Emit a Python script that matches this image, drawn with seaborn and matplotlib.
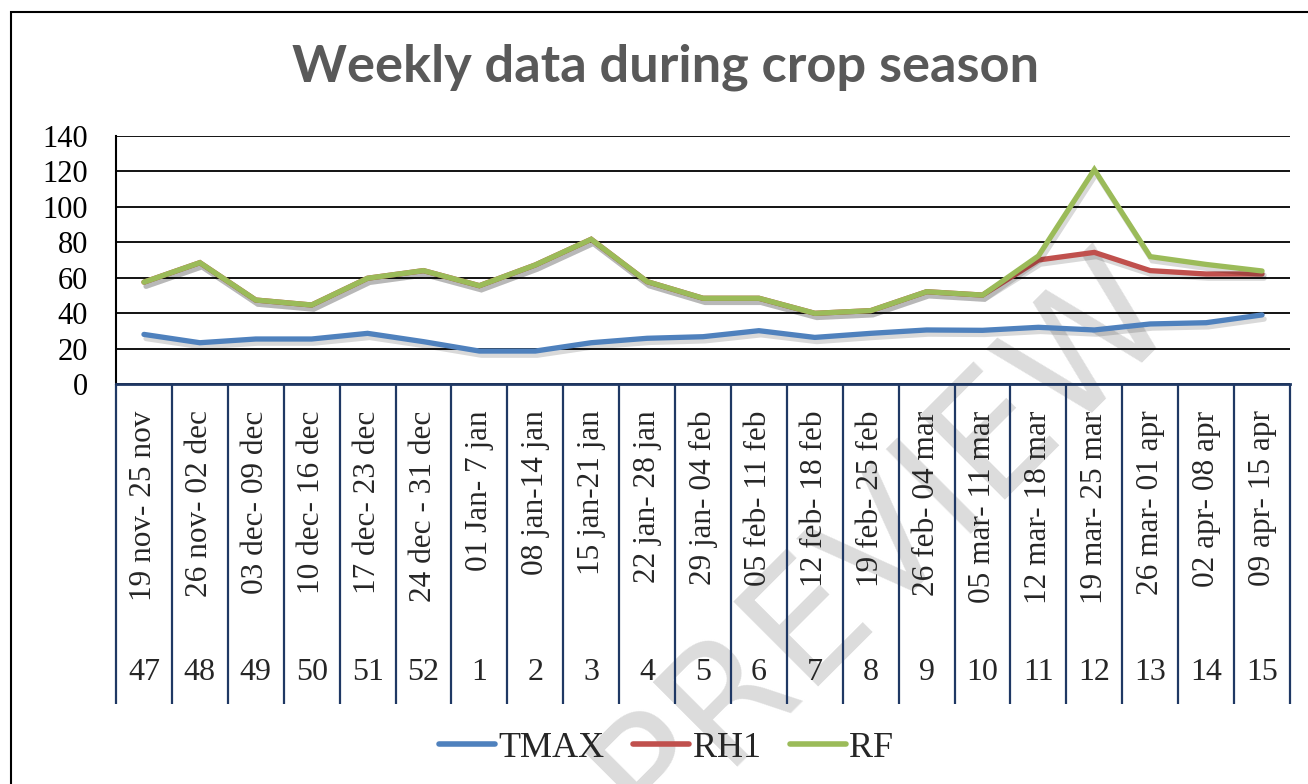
import numpy as np
import pandas as pd
import matplotlib
matplotlib.use("Agg")
import matplotlib.pyplot as plt
import seaborn as sns
from matplotlib import patheffects as pe
from matplotlib.lines import Line2D
from matplotlib.patches import Rectangle

# Weekly data
week_labels = [
    "19 nov- 25 nov", "26 nov- 02 dec", "03 dec- 09 dec", "10 dec- 16 dec",
    "17 dec- 23 dec", "24 dec - 31 dec", "01 Jan- 7 jan", "08 jan-14 jan",
    "15 jan-21 jan", "22 jan- 28 jan", "29 jan- 04 feb", "05 feb- 11 feb",
    "12 feb- 18 feb", "19 feb- 25 feb", "26 feb- 04 mar", "05 mar- 11 mar",
    "12 mar- 18 mar", "19 mar- 25 mar", "26 mar- 01 apr", "02 apr- 08 apr",
    "09 apr- 15 apr",
]
std_weeks = [47, 48, 49, 50, 51, 52, 1, 2, 3, 4, 5, 6, 7, 8, 9, 10, 11, 12, 13, 14, 15]
tmax = [28.0, 23.3, 25.4, 25.4, 28.6, 23.9, 18.6, 18.6, 23.3, 25.8, 26.7,
        30.1, 26.3, 28.6, 30.5, 30.3, 32.0, 30.5, 33.9, 34.6, 39.0]
rh1 = [57.5, 68.5, 47.4, 44.6, 59.7, 64.0, 55.5, 67.2, 81.7, 57.8, 48.4,
       48.4, 39.9, 41.4, 52.1, 50.2, 70.0, 74.3, 64.0, 62.1, 62.1]
rf = [57.5, 68.5, 47.4, 44.6, 59.7, 64.0, 55.5, 67.2, 81.7, 57.8, 48.4,
      48.4, 39.9, 41.4, 52.1, 50.2, 72.3, 121.0, 71.9, 67.5, 63.8]

SERIES = ["TMAX", "RH1", "RF"]
COLORS = {"TMAX": "#4F81BD", "RH1": "#C0504D", "RF": "#9BBB59"}
NAVY = "#1F3864"

df = pd.DataFrame({"pos": np.arange(len(week_labels)), "TMAX": tmax, "RH1": rh1, "RF": rf})
long = df.melt(id_vars="pos", value_vars=SERIES, var_name="series", value_name="value")

sns.set_theme(style="white")
plt.rcParams["font.family"] = ["Liberation Serif", "DejaVu Serif"]

W, H = 1308, 784
fig = plt.figure(figsize=(W / 100, H / 100), dpi=100)
fig.patch.set_facecolor("white")
ax = fig.add_axes([116 / W, 1 - 384 / H, (1290 - 116) / W, (384 - 136) / H])
ax.patch.set_alpha(0)

sns.lineplot(data=long, x="pos", y="value", hue="series", hue_order=SERIES,
             palette=COLORS, linewidth=3.8, ax=ax, legend=False, sort=False)

for line in ax.lines:
    line.set_solid_capstyle("round")
    line.set_solid_joinstyle("miter")
    line.set_path_effects([pe.SimpleLineShadow(offset=(1.5, -3), shadow_color="black", alpha=0.15),
                           pe.Normal()])

ax.set_xlim(-0.5, len(week_labels) - 0.5)
ax.set_ylim(0, 140)
ax.set_yticks(range(0, 141, 20))
ax.yaxis.grid(True, color="black", linewidth=1.3)
ax.xaxis.grid(False)
ax.set_axisbelow(True)
ax.set_xlabel("")
ax.set_ylabel("")

for s in ["top", "right"]:
    ax.spines[s].set_visible(False)
ax.spines["left"].set_color("black")
ax.spines["left"].set_linewidth(1.5)
ax.spines["bottom"].set_color(NAVY)
ax.spines["bottom"].set_linewidth(2)

ax.tick_params(axis="y", length=0, pad=20, labelsize=22, labelcolor="black")
ax.set_xticks(df["pos"])
ax.set_xticklabels(week_labels, rotation=90, va="top", ha="center", fontsize=22.5)
ax.tick_params(axis="x", length=0, pad=19)

# second level of the category axis: standard week numbers
ah = 384 - 136
for i, w in enumerate(std_weeks):
    ax.text(i, -(672 - 384) / ah, str(w), transform=ax.get_xaxis_transform(),
            ha="center", va="center", fontsize=23)

ax.vlines(np.arange(-0.5, len(week_labels)), ymin=-(704 - 384) / ah, ymax=0,
          transform=ax.get_xaxis_transform(), color=NAVY, linewidth=1.6, clip_on=False)

fig.text(665 / W, 1 - 67 / H, "Weekly data during crop season", ha="center", va="center",
         fontsize=37.7, fontweight="bold", color="#595959", family=["Lato", "DejaVu Sans"])

handles = [Line2D([0], [0], color=COLORS[s], linewidth=4, solid_capstyle="round") for s in SERIES]
fig.legend(handles, SERIES, loc="center", bbox_to_anchor=(666 / W, 1 - 748 / H), ncol=3,
           frameon=False, fontsize=26, handlelength=1.55, handletextpad=0.1, columnspacing=0.8)

fig.add_artist(Rectangle((11 / W, -0.1), 1.2, (H - 12) / H + 0.1, transform=fig.transFigure,
                         fill=False, edgecolor="black", linewidth=1.5))

fig.text(0.675, 0.31, "PREVIEW", rotation=45, fontsize=118, color="#dcdcdc",
         ha="center", va="center", zorder=-1, family=["DejaVu Sans"])

fig.savefig("out.png", dpi=100)
